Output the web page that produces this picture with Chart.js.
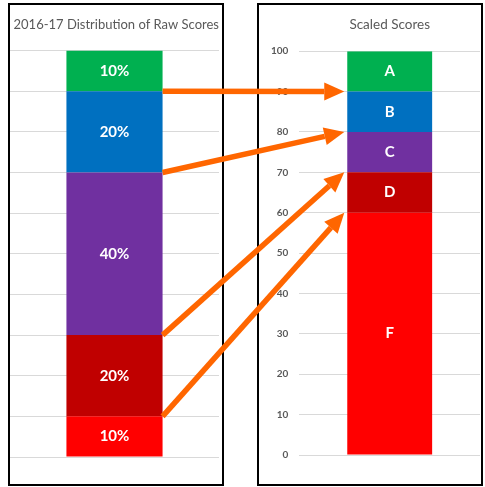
<!DOCTYPE html>
<html>
<head>
<meta charset="utf-8">
<script src="https://cdn.jsdelivr.net/npm/chart.js@4"></script>
<style>
  html, body { margin: 0; padding: 0; background: #fff; }
  body { width: 485px; height: 487px; position: relative; overflow: hidden; }
  .panel { position: absolute; border: 2px solid #000; background: #fff; }
  #leftPanel { left: 8px; top: 3px; width: 212px; height: 479px; }
  #rightPanel { left: 257px; top: 3px; width: 222px; height: 479px; }
  .panel canvas { display: block; }
  #arrows { position: absolute; left: 0; top: 0; pointer-events: none; }
</style>
</head>
<body>
<div class="panel" id="leftPanel"><canvas id="rawChart" width="212" height="479"></canvas></div>
<div class="panel" id="rightPanel"><canvas id="scaledChart" width="222" height="479"></canvas></div>
<canvas id="arrows" width="485" height="487"></canvas>
<script>
// bands bottom -> top
const grades = ['F', 'D', 'C', 'B', 'A'];
const rawShares = [10, 20, 40, 20, 10];        // % of students
const scaledWidths = [60, 10, 10, 10, 10];     // scaled score span per grade
const bandColors = ['#FF0000', '#C00000', '#7030A0', '#0070C0', '#00B050'];
// arrows: cumulative raw % boundary -> scaled score boundary
const arrowFrom = [90, 70, 30, 10];
const arrowTo = [90, 80, 70, 60];

const gridColor = '#d9d9d9';

// white labels in the middle of each stacked segment
const segLabels = {
  id: 'segLabels',
  afterDatasetsDraw(chart) {
    const ctx = chart.ctx;
    ctx.save();
    ctx.fillStyle = '#fff';
    ctx.font = 'bold 15px Lato';
    ctx.textAlign = 'center';
    ctx.textBaseline = 'middle';
    chart.data.datasets.forEach((ds, i) => {
      chart.getDatasetMeta(i).data.forEach(bar => {
        ctx.fillText(ds.label, bar.x, (bar.y + bar.base) / 2);
      });
    });
    ctx.restore();
  }
};

function stackChart(id, texts, values, title, showTicks, pad) {
  return new Chart(document.getElementById(id), {
    type: 'bar',
    data: {
      labels: [''],
      datasets: values.map((v, i) => ({
        label: texts[i],
        data: [v],
        backgroundColor: bandColors[i],
        borderWidth: 0,
        barPercentage: pad.bar,
        categoryPercentage: 1
      }))
    },
    options: {
      responsive: false,
      animation: false,
      layout: { padding: { left: pad.left, right: pad.right, top: 0, bottom: pad.bottom } },
      scales: {
        x: { stacked: true, display: false },
        y: {
          stacked: true,
          min: 0,
          max: 100,
          ticks: {
            display: showTicks,
            stepSize: 10,
            padding: 11,
            color: '#595959',
            font: { family: 'Lato', size: 10, weight: 'bold' }
          },
          grid: { color: gridColor, drawTicks: false },
          border: { display: false }
        }
      },
      plugins: {
        legend: { display: false },
        tooltip: { enabled: false },
        title: {
          display: true,
          fullSize: false,
          align: pad.titleAlign,
          text: title,
          color: '#595959',
          font: { family: 'Lato', size: pad.titleSize, weight: 'normal' },
          padding: { top: 12, bottom: 18 }
        }
      }
    },
    plugins: [segLabels]
  });
}

const rawChart = stackChart('rawChart', rawShares.map(v => v + '%'), rawShares,
  '2016-17 Distribution of Raw Scores', false,
  { left: 0, right: 3, bottom: 27, bar: 0.46, titleAlign: 'end', titleSize: 13 });
const scaledChart = stackChart('scaledChart', grades, scaledWidths,
  'Scaled Scores', true,
  { left: 1, right: 1, bottom: 29, bar: 0.47, titleAlign: 'center', titleSize: 13.5 });

// orange arrows between the two charts, placed from the charts' own scales
function drawArrows() {
  const ctx = document.getElementById('arrows').getContext('2d');
  const lr = rawChart.canvas.getBoundingClientRect();
  const rr = scaledChart.canvas.getBoundingClientRect();
  const lBar = rawChart.getDatasetMeta(0).data[0];
  const rBar = scaledChart.getDatasetMeta(0).data[0];
  const x0 = lr.left + lBar.x + lBar.width / 2;
  const x1 = rr.left + rBar.x - rBar.width / 2 - 3;
  ctx.strokeStyle = '#FF6600';
  ctx.fillStyle = '#FF6600';
  ctx.lineWidth = 5.5;
  arrowFrom.forEach((from, i) => {
    const y0 = lr.top + rawChart.scales.y.getPixelForValue(from);
    const y1 = rr.top + scaledChart.scales.y.getPixelForValue(arrowTo[i]);
    const ang = Math.atan2(y1 - y0, x1 - x0);
    const headLen = 20, headHalf = 9;
    const bx = x1 - headLen * Math.cos(ang), by = y1 - headLen * Math.sin(ang);
    ctx.beginPath();
    ctx.moveTo(x0, y0);
    ctx.lineTo(bx, by);
    ctx.stroke();
    ctx.beginPath();
    ctx.moveTo(x1, y1);
    ctx.lineTo(bx - headHalf * Math.sin(ang), by + headHalf * Math.cos(ang));
    ctx.lineTo(bx + headHalf * Math.sin(ang), by - headHalf * Math.cos(ang));
    ctx.closePath();
    ctx.fill();
  });
}
drawArrows();
</script>
</body>
</html>
